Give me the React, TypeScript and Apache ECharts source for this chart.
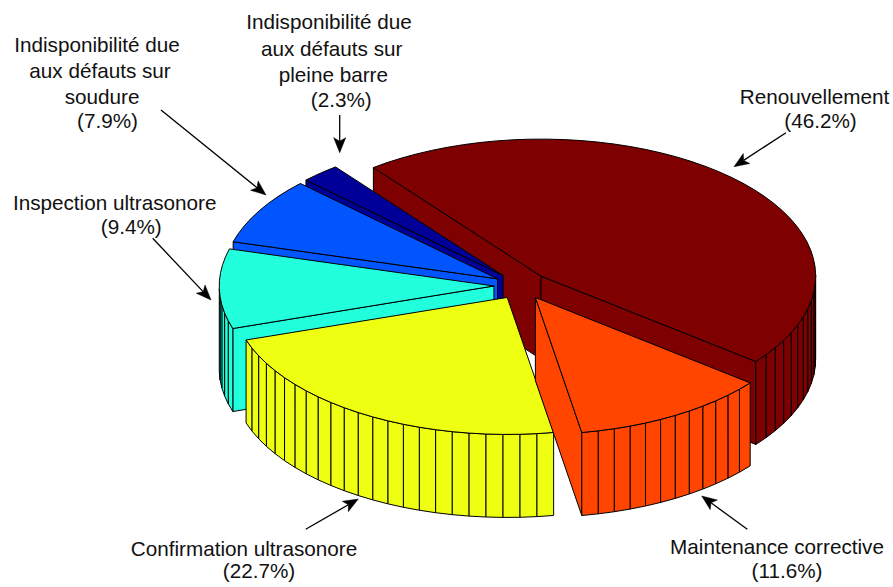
import React, { useEffect, useRef } from "react";
import * as echarts from "echarts";

const categories = [
  "Renouvellement",
  "Maintenance corrective",
  "Confirmation ultrasonore",
  "Inspection ultrasonore",
  "Indisponibilité due aux défauts sur soudure",
  "Indisponibilité due aux défauts sur pleine barre",
];
const percents = [46.2, 11.6, 22.7, 9.4, 7.9, 2.3];
const colors = ["#7f0000", "#ff4500", "#eeff11", "#22ffdd", "#0055ff", "#000099"];
// painter's order, back to front
const drawOrder = [0, 5, 4, 3, 2, 1];

const labelLines = [
  ["Renouvellement", "(46.2%)"],
  ["Maintenance corrective", "(11.6%)"],
  ["Confirmation ultrasonore", "(22.7%)"],
  ["Inspection ultrasonore", "(9.4%)"],
  ["Indisponibilité due", "aux défauts sur", "soudure", "(7.9%)"],
  ["Indisponibilité due", "aux défauts sur", "pleine barre", "(2.3%)"],
];
const labelAnchors = [
  [[814.5, 96], [820.5, 120.5]],
  [[777, 546], [787, 570]],
  [[244, 548.5], [259, 570.5]],
  [[114.7, 202], [131.3, 226.5]],
  [[97, 44], [100, 70], [102, 96], [107.5, 120.5]],
  [[329, 21.5], [331.7, 48.5], [333.3, 74], [341.3, 99]],
];
const arrows = [
  [786, 132.7, 734, 166.7],
  [747.3, 529.3, 701.7, 496],
  [305.7, 529.3, 358.3, 499],
  [152.7, 238.3, 211, 300],
  [161, 110, 266, 195],
  [339.7, 115, 339.7, 152.7],
];

const CX = 521.4;
const CY = 285.7;
const RX = 274.7;
const RY = 137;
const DEPTH = 83;
const EXPLODE = 0.1;
const START_DEG = 232.4;
const total = percents.reduce((a, b) => a + b, 0);

const rad = (d: number) => (d * Math.PI) / 180;

function renderSlice(_params: any, api: any) {
  const idx = api.value(0) as number;
  const value = api.value(1) as number;
  let before = 0;
  for (let i = 0; i < idx; i++) before += percents[i];
  const t0 = START_DEG + (before / total) * 360;
  const t1 = t0 + (value / total) * 360;
  const tm = (t0 + t1) / 2;
  const ax = CX + EXPLODE * RX * Math.cos(rad(tm));
  const ay = CY + EXPLODE * RY * Math.sin(rad(tm));
  const n = Math.max(1, Math.ceil(value));
  const rim: number[][] = [];
  for (let k = 0; k <= n; k++) {
    const t = rad(t0 + ((t1 - t0) * k) / n);
    rim.push([ax + RX * Math.cos(t), ay + RY * Math.sin(t)]);
  }
  const style = { fill: colors[idx], stroke: "#000", lineWidth: 1 };
  const poly = (points: number[][]) => ({ type: "polygon", shape: { points }, style });
  const children: any[] = [];
  const down = (p: number[]) => [p[0], p[1] + DEPTH];
  const radial = (p: number[]) => poly([[ax, ay], p, down(p), [ax, ay + DEPTH]]);
  // radial cut faces turned to the viewer
  if (Math.sin(rad(t0 - 90)) > 0) children.push(radial(rim[0]));
  if (Math.sin(rad(t1 + 90)) > 0) children.push(radial(rim[n]));
  // outer facets turned to the viewer
  for (let k = 0; k < n; k++) {
    const tMid = t0 + ((t1 - t0) * (k + 0.5)) / n;
    if (Math.sin(rad(tMid)) > 0) {
      children.push(poly([rim[k], rim[k + 1], down(rim[k + 1]), down(rim[k])]));
    }
  }
  children.push(poly([[ax, ay], ...rim]));
  return { type: "group", children };
}

function arrowElements(a: number[]) {
  const [x0, y0, x1, y1] = a;
  const L = Math.hypot(x1 - x0, y1 - y0);
  const ux = (x1 - x0) / L;
  const uy = (y1 - y0) / L;
  const HL = 15;
  const HW = 6;
  const NOTCH = 11.5;
  const back = (d: number, s: number) => [x1 - ux * d - uy * s, y1 - uy * d + ux * s];
  return [
    {
      type: "line",
      shape: { x1: x0, y1: y0, x2: x1 - ux * NOTCH, y2: y1 - uy * NOTCH },
      style: { stroke: "#000", lineWidth: 1.3 },
    },
    {
      type: "polygon",
      shape: { points: [[x1, y1], back(HL, HW), back(NOTCH, 0), back(HL, -HW)] },
      style: { fill: "#000", stroke: "#000", lineWidth: 0.5 },
    },
  ];
}

export default function App() {
  const ref = useRef<HTMLDivElement>(null);
  useEffect(() => {
    document.body.style.margin = "0";
    const chart = echarts.init(ref.current!, undefined, { renderer: "svg" });
    const texts: any[] = [];
    labelLines.forEach((lines, i) =>
      lines.forEach((text, j) => {
        texts.push({
          type: "text",
          x: labelAnchors[i][j][0],
          y: labelAnchors[i][j][1],
          style: {
            text,
            fill: "#111",
            font: '20.7px "Liberation Sans", Arial, sans-serif',
            textAlign: "center",
            textVerticalAlign: "middle",
          },
        });
      })
    );
    chart.setOption({
      animation: false,
      backgroundColor: "#fff",
      series: [
        {
          type: "custom",
          coordinateSystem: "none",
          silent: true,
          clip: false,
          renderItem: renderSlice,
          dimensions: ["index", "percent", "name"],
          encode: { tooltip: [1], itemName: 2 },
          data: drawOrder.map((i) => [i, percents[i], categories[i]]),
        },
      ],
      graphic: { elements: [...texts, ...arrows.flatMap(arrowElements)] },
    });
    return () => chart.dispose();
  }, []);
  return <div ref={ref} style={{ width: 893, height: 587 }} />;
}
